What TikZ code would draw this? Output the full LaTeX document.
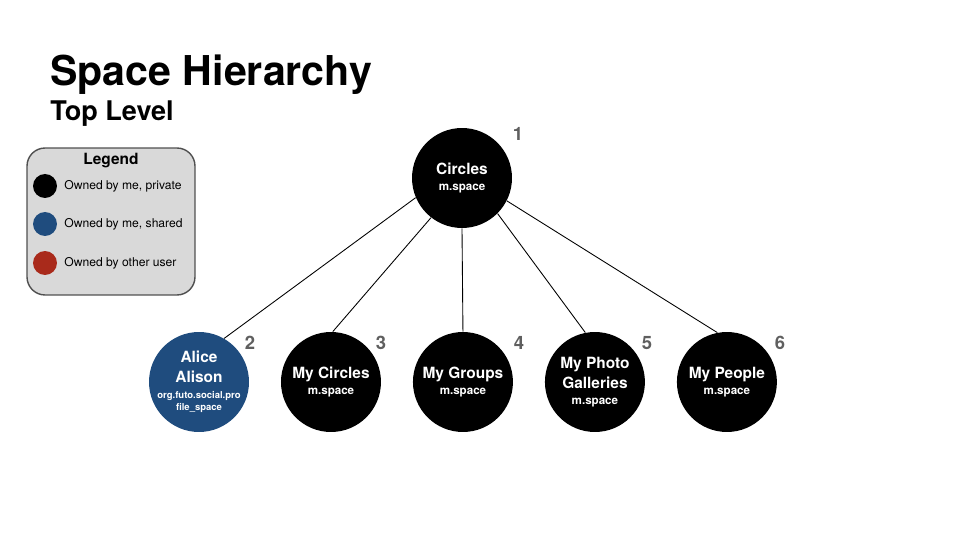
\documentclass[tikz,border=0pt]{standalone}
\usepackage{fontspec}
\setmainfont{TeX Gyre Heros}
\usetikzlibrary{%
	calc,%
	positioning,%
}
\definecolor{cblue}{RGB}{31, 76, 126}
\definecolor{cred}{RGB}{169, 42, 27}
\definecolor{cgreylight}{RGB}{217, 217, 217}
\definecolor{cgrey}{RGB}{95, 95, 95}
\definecolor{cborder}{RGB}{80, 80, 80}
\newcommand{\spacename}[1]{{\fontsize{8.8pt}{6.8pt}\selectfont\bfseries #1}}
\newcommand{\spaceid}[1]{{\fontsize{6.6pt}{6.8pt}\selectfont\bfseries #1}}
\newcommand{\spaceidsmall}[1]{{\fontsize{5.4pt}{6.8pt}\selectfont\bfseries #1}}
\tikzset{
	nodes={align=center},%
	space/.style={%
			circle,%
			fill=black,%
			text=white,%
			minimum size=2cm,%
			inner sep=-0.3cm,%
			font=\fontsize{6.4pt}{6.8pt}\selectfont},%
	shared/.style={%
			space,%
			fill=cblue},%
	num/.style={%
			text=cgrey,%
			font=\fontsize{10.5pt}{12pt}\selectfont\bfseries},%
	legenddot/.style={%
			circle,%
			minimum size=0.48cm,%
			inner sep=0},%
	legendtext/.style={%
			anchor=west,%
			inner sep=0,%
			font=\fontsize{6.9pt}{8pt}\selectfont},%
	link/.style={%
			line width=0.5pt},%
}

\begin{document}
\begin{tikzpicture}[x=0.02cm, y=-0.02cm, node distance=0.626cm]%
	\useasboundingbox (0,0) rectangle (960,540);

	\node[anchor=base west, inner sep=0, font=\fontsize{23.4pt}{26pt}\selectfont\bfseries] (title) at (50,86) {Space Hierarchy};
	\node[anchor=base west, inner sep=0, font=\fontsize{15.4pt}{17pt}\selectfont\bfseries] (subtitle) at (50,121) {Top Level};

	% legend
	\node[draw=cborder, fill=cgreylight, rounded corners=0.36cm, line width=0.8pt, minimum width=3.36cm, minimum height=2.94cm] (legend) at (111,221.5) {};
	\node[font=\fontsize{8.8pt}{10pt}\selectfont\bfseries] (legendtitle) at (111,161) {Legend};
	\node[legenddot, fill=black] (dotprivate) at (45,186) {};
	\node[legenddot, fill=cblue] (dotshared) at (45,224) {};
	\node[legenddot, fill=cred] (dotother) at (45,263) {};
	\node[legendtext] (txtprivate) at (64,186) {Owned by me, private};
	\node[legendtext] (txtshared) at (64,224) {Owned by me, shared};
	\node[legendtext] (txtother) at (64,263) {Owned by other user};

	% spaces
	\node[space] (circles) at (462,178) {\spacename{Circles}\\[2.3pt]\spaceid{m.space}};

	\node[shared] (alice) at (199,382) {\spacename{Alice}\\[4.5pt]\spacename{Alison}\\[2.6pt]\spaceidsmall{org.futo.social.pro}\\\spaceidsmall{file\_space}};
	\node[space] (mycircles) [right=of alice] {\spacename{My Circles}\\[2.3pt]\spaceid{m.space}};
	\node[space] (mygroups) [right=of mycircles] {\spacename{My Groups}\\[2.3pt]\spaceid{m.space}};
	\node[space] (photos) [right=of mygroups] {\spacename{My Photo}\\[1.9pt]\spacename{Galleries}\\[2pt]\spaceid{m.space}};
	\node[space] (people) [right=of photos] {\spacename{My People}\\[2.3pt]\spaceid{m.space}};

	% numbers
	\node[num] (n1) at ($(circles.center)+(56,-44)$) {1};
	\node[num] (n2) at ($(alice.center)+(51,-39)$) {2};
	\node[num] (n3) at ($(mycircles.center)+(50,-39)$) {3};
	\node[num] (n4) at ($(mygroups.center)+(56,-39)$) {4};
	\node[num] (n5) at ($(photos.center)+(52,-39)$) {5};
	\node[num] (n6) at ($(people.center)+(53,-39)$) {6};

	\draw[link] (circles.203) to (alice.60);
	\draw[link] (circles.232) to (mycircles.88);
	\draw[link] (circles.south) to (mygroups.north);
	\draw[link] (circles.315) to (photos.101);
	\draw[link] (circles.333) to (people.101);
\end{tikzpicture}
\end{document}
